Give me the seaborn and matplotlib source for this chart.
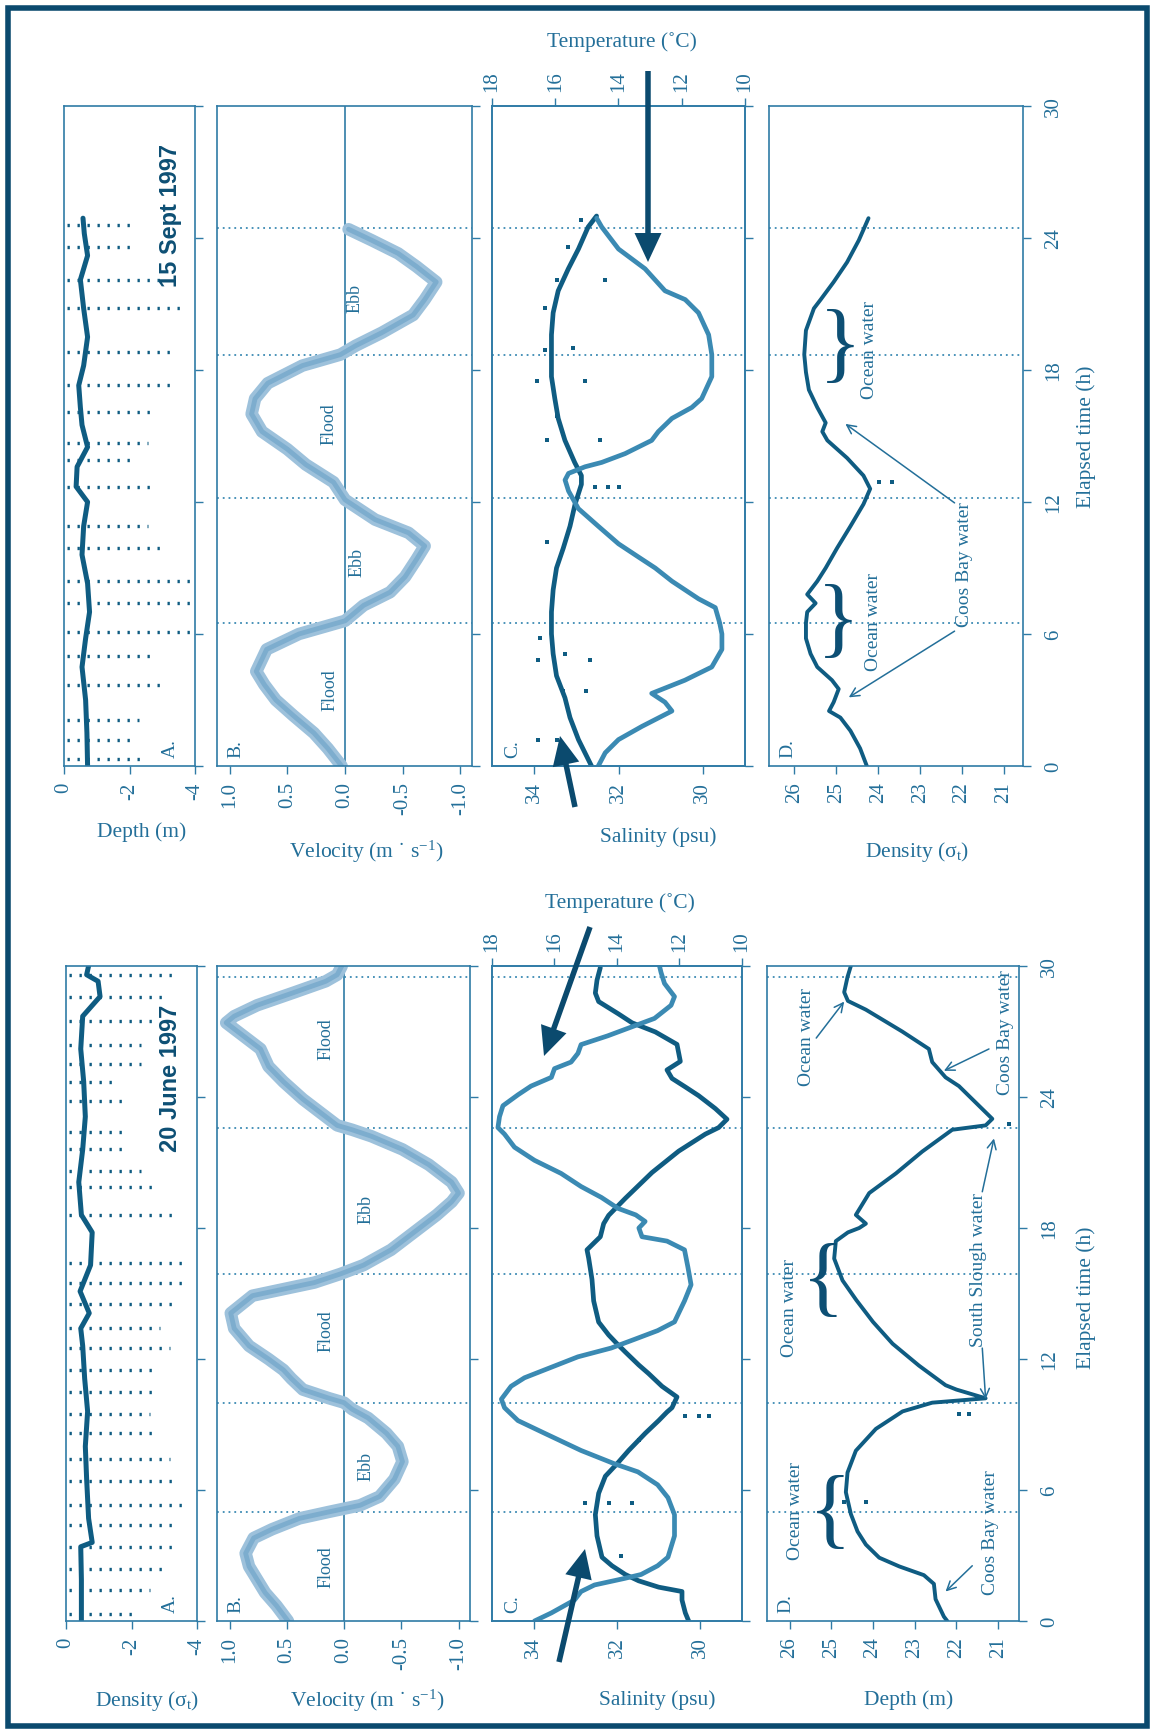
import matplotlib
matplotlib.use("Agg")
import matplotlib.pyplot as plt
from matplotlib.patches import FancyArrow, Rectangle
import seaborn as sns

W, H = 1155, 1733

# ---------------- 15 Sept 1997 (upper block) ----------------
sep_dep_t = [0.0, 1.5, 3.0, 4.5, 5.8, 7.0, 8.3, 9.6, 10.9, 12.0, 12.7, 13.6, 14.5,
             15.5, 16.3, 17.3, 18.2, 19.5, 20.8, 22.1, 23.2, 24.2, 24.9]
sep_dep = [-0.72, -0.70, -0.66, -0.55, -0.66, -0.78, -0.72, -0.55, -0.60, -0.72, -0.37,
           -0.40, -0.72, -0.55, -0.50, -0.45, -0.60, -0.72, -0.60, -0.50, -0.72, -0.62, -0.58]
sep_spk_t = [0.3, 1.2, 2.1, 3.7, 5.0, 6.1, 7.4, 8.4, 9.9, 10.9, 12.7, 13.9, 14.7, 16.1,
             17.3, 18.8, 20.8, 22.1, 23.6, 24.6]
sep_spk_end = [-2.35, -2.23, -2.29, -3.16, -2.76, -3.98, -3.92, -4.0, -3.05, -2.58, -2.76,
               -2.12, -2.58, -2.81, -3.4, -3.4, -3.57, -3.05, -2.17, -2.12]

sep_vel_t = [0.0, 0.8, 1.5, 2.3, 3.0, 3.7, 4.3, 5.3, 6.0, 6.6, 7.3, 7.9, 8.6, 9.4, 10.0,
             10.6, 11.2, 12.1, 12.9, 13.7, 14.4, 15.2, 16.0, 16.7, 17.4, 18.2, 18.7, 19.1,
             19.7, 20.5, 21.2, 22.0, 22.7, 23.3, 23.9, 24.4]
sep_vel = [0.03, 0.15, 0.27, 0.45, 0.60, 0.70, 0.77, 0.68, 0.40, 0.0, -0.16, -0.39, -0.52,
           -0.62, -0.69, -0.55, -0.26, 0.0, 0.10, 0.34, 0.50, 0.72, 0.81, 0.78, 0.67, 0.37,
           0.04, -0.09, -0.32, -0.59, -0.69, -0.79, -0.62, -0.46, -0.23, -0.03]

sep_sal_t = [0.0, 1.2, 2.2, 3.1, 4.1, 5.1, 6.0, 7.0, 8.0, 9.0, 9.9, 10.9, 11.9, 12.8, 13.2,
             13.8, 14.8, 15.8, 16.7, 17.7, 18.7, 19.6, 20.6, 21.6, 22.6, 23.5, 24.5, 25.0]
sep_sal = [32.64, 32.95, 33.15, 33.27, 33.47, 33.55, 33.59, 33.59, 33.55, 33.47, 33.31,
           33.15, 33.03, 32.88, 32.88, 33.04, 33.27, 33.43, 33.51, 33.59, 33.59, 33.59,
           33.55, 33.43, 33.19, 32.95, 32.72, 32.52]
sep_tmp_t = [0.0, 0.6, 1.2, 1.8, 2.5, 2.9, 3.3, 3.9, 4.5, 5.3, 6.0, 6.5, 7.2, 7.6, 8.4,
             9.0, 9.5, 10.1, 10.9, 11.7, 12.5, 13.0, 13.3, 13.6, 13.8, 14.2, 14.8, 15.2,
             15.8, 16.3, 16.7, 17.7, 18.7, 19.6, 20.6, 21.2, 21.6, 22.6, 23.5, 24.5, 24.9]
sep_tmp = [14.64, 14.42, 14.0, 13.26, 12.31, 12.53, 12.95, 11.9, 11.05, 10.73, 10.73,
           10.8, 10.94, 11.47, 12.31, 12.84, 13.37, 14.0, 14.64, 15.27, 15.58, 15.69,
           15.58, 15.06, 14.53, 13.79, 12.95, 12.74, 12.31, 11.68, 11.37, 11.05, 11.05,
           11.15, 11.47, 11.89, 12.53, 13.16, 14.0, 14.53, 14.69]
sep_out_t = [24.8, 23.6, 22.1, 22.1, 20.8, 18.9, 19.0, 17.5, 17.5, 15.9, 14.8, 14.8,
             12.7, 12.7, 12.7, 10.2, 5.8, 5.1, 4.8, 4.8, 3.4, 3.4, 1.2, 1.2]
sep_out_s = [32.88, 33.19, 33.47, 32.32, 33.74, 33.74, 33.07, 33.94, 32.8, 33.47, 33.7,
             32.44, 32.56, 32.24, 32.0, 33.7, 33.86, 33.27, 33.9, 32.68, 33.31, 32.76,
             33.9, 33.47]

sep_den_t = [0.0, 0.8, 1.6, 2.2, 2.5, 2.9, 3.5, 3.9, 4.5, 5.1, 5.8, 6.5, 7.0, 7.4, 7.8,
             8.4, 9.0, 9.9, 10.9, 11.9, 12.6, 13.2, 14.0, 14.8, 15.2, 15.6, 16.3, 17.1,
             17.9, 18.7, 19.8, 20.8, 21.2, 22.0, 22.9, 23.9, 24.9]
sep_den = [24.27, 24.43, 24.66, 24.9, 25.17, 25.06, 24.94, 25.1, 25.45, 25.61, 25.72,
           25.72, 25.69, 25.49, 25.69, 25.45, 25.25, 24.98, 24.66, 24.35, 24.19, 24.35,
           24.74, 25.21, 25.33, 25.25, 25.45, 25.65, 25.72, 25.76, 25.72, 25.53, 25.37,
           25.06, 24.74, 24.46, 24.23]
sep_slack = [6.5, 12.2, 18.7, 24.45]

# ---------------- 20 June 1997 (lower block) ----------------
jun_dep_t = [0.0, 1.9, 3.4, 3.6, 4.7, 6.5, 8.0, 9.6, 11.1, 12.6, 13.4, 14.1, 15.1, 16.3,
             17.8, 18.6, 20.1, 21.6, 23.1, 24.7, 26.2, 27.7, 28.6, 29.3, 29.6, 30.0]
jun_dep = [-0.47, -0.47, -0.45, -0.80, -0.69, -0.63, -0.59, -0.66, -0.57, -0.51, -0.45,
           -0.71, -0.43, -0.75, -0.80, -0.47, -0.39, -0.51, -0.59, -0.54, -0.45, -0.51,
           -1.04, -0.98, -0.63, -0.69]
jun_spk_t = [0.3, 1.4, 2.4, 3.4, 4.4, 5.3, 6.4, 7.4, 8.6, 9.5, 10.5, 11.5, 12.5, 13.4,
             14.5, 15.5, 16.4, 18.6, 19.9, 20.6, 21.6, 22.4, 23.8, 24.7, 25.5, 26.4, 27.5,
             28.6, 29.6]
jun_spk_end = [-2.05, -2.58, -3.1, -3.4, -3.23, -3.76, -3.4, -3.17, -2.64, -2.58, -2.7,
               -2.82, -3.17, -2.88, -3.4, -3.7, -3.7, -3.23, -2.82, -2.28, -1.87, -1.93,
               -1.75, -1.63, -2.28, -2.28, -2.82, -3.1, -3.4]

jun_vel_t = [0.0, 0.7, 1.3, 1.9, 2.5, 3.1, 3.8, 4.2, 4.7, 5.0, 5.3, 5.7, 6.5, 7.3, 8.0,
             8.6, 9.3, 9.7, 10.0, 10.2, 10.6, 11.1, 11.5, 12.0, 12.6, 13.4, 14.1, 14.9,
             15.5, 15.9, 16.3, 17.0, 17.8, 18.6, 19.2, 19.6, 20.1, 20.9, 21.6, 22.2, 22.5,
             22.7, 23.1, 23.9, 24.7, 25.4, 26.2, 27.0, 27.4, 27.7, 28.2, 28.8, 29.3, 29.6,
             30.0]
jun_vel = [0.49, 0.59, 0.69, 0.76, 0.83, 0.86, 0.79, 0.63, 0.39, 0.13, -0.14, -0.31, -0.44,
           -0.51, -0.47, -0.37, -0.21, -0.07, 0.0, 0.13, 0.36, 0.46, 0.53, 0.66, 0.83, 0.96,
           0.99, 0.80, 0.26, 0.03, -0.17, -0.41, -0.61, -0.81, -0.94, -1.0, -0.94, -0.74,
           -0.51, -0.24, -0.07, 0.06, 0.16, 0.36, 0.53, 0.66, 0.73, 0.93, 1.03, 0.96, 0.76,
           0.43, 0.16, 0.06, 0.02]

jun_sal_t = [0.0, 0.37, 0.96, 1.35, 1.55, 1.84, 2.13, 2.53, 2.92, 3.9, 4.87, 5.85, 6.63,
             7.2, 7.81, 8.6, 9.18, 9.57, 9.77, 10.26, 10.75, 11.33, 11.73, 12.32, 12.7, 13.1,
             13.69, 14.66, 15.64, 16.62, 17.0, 17.6, 18.2, 18.58, 18.97, 19.36, 20.54, 21.52,
             22.3, 22.6, 22.98, 23.47, 24.06, 24.46, 24.85, 25.24, 25.63, 26.41, 26.98, 27.4,
             27.8, 28.37, 28.76, 29.35, 29.93]
jun_sal = [30.28, 30.36, 30.44, 30.44, 31.0, 31.48, 31.8, 32.12, 32.36, 32.48, 32.52,
           32.44, 32.28, 32.0, 31.72, 31.32, 31.0, 30.8, 30.68, 30.56, 30.92, 31.24, 31.48,
           31.8, 32.0, 32.2, 32.44, 32.56, 32.6, 32.68, 32.72, 32.4, 32.32, 32.2, 32.0,
           31.8, 31.16, 30.52, 29.88, 29.56, 29.36, 29.64, 30.04, 30.36, 30.68, 30.8, 30.48,
           30.56, 31.08, 31.64, 31.96, 32.44, 32.52, 32.48, 32.4]
jun_tmp_t = [0.0, 0.37, 0.96, 1.35, 1.65, 1.95, 2.13, 2.53, 2.92, 3.9, 4.87, 5.65, 6.24,
             6.83, 7.2, 7.81, 8.6, 9.18, 9.77, 10.16, 10.75, 11.14, 11.5, 12.1, 12.5, 12.9,
             13.3, 13.7, 14.66, 15.4, 16.2, 17.0, 17.4, 17.6, 18.0, 18.3, 18.6, 18.9, 19.4,
             19.9, 20.5, 21.1, 21.7, 22.3, 22.6, 23.1, 23.6, 24.1, 24.5, 24.9, 25.3, 25.6,
             26.0, 26.4, 26.8, 27.2, 27.6, 28.2, 28.6, 29.2, 29.7, 30.0]
jun_tmp = [16.64, 16.1, 15.36, 15.15, 14.72, 13.76, 13.23, 12.7, 12.37, 12.16, 12.16,
           12.37, 12.7, 13.33, 14.08, 15.15, 16.32, 17.17, 17.6, 17.7, 17.39, 16.96, 16.32,
           15.25, 14.19, 13.44, 12.7, 12.16, 11.84, 11.63, 11.73, 11.84, 12.4, 13.2, 13.3,
           13.1, 13.4, 13.97, 14.5, 15.15, 15.79, 16.64, 17.28, 17.6, 17.81, 17.76, 17.65,
           17.17, 16.75, 16.1, 16.0, 15.47, 15.25, 15.15, 14.3, 13.55, 12.8, 12.27, 12.16,
           12.48, 12.59, 12.64]
jun_out_t = [5.4, 5.4, 5.4, 3.0, 9.4, 9.4, 9.4, 8.3]
jun_out_s = [32.76, 32.2, 31.64, 31.9, 30.36, 30.04, 29.8, 31.48]

jun_den_t = [0.0, 0.2, 1.0, 1.7, 2.1, 2.5, 2.9, 3.5, 4.1, 4.9, 5.9, 6.8, 7.8, 8.8, 9.6,
             10.0, 10.2, 10.6, 10.8, 11.7, 12.7, 13.7, 14.7, 15.6, 16.6, 17.4, 17.8, 18.0,
             18.2, 18.6, 19.6, 20.5, 21.5, 22.5, 22.7, 23.0, 23.3, 23.9, 24.5, 24.9, 25.6,
             26.2, 27.0, 28.0, 28.4, 28.8, 29.5, 30.0]
jun_den = [22.22, 22.3, 22.5, 22.54, 22.78, 23.37, 23.85, 24.17, 24.37, 24.53, 24.65,
           24.61, 24.41, 23.93, 23.29, 22.58, 21.3, 22.0, 22.26, 22.9, 23.53, 24.0, 24.4,
           24.73, 24.93, 24.89, 24.6, 24.33, 24.17, 24.41, 24.09, 23.45, 22.82, 22.1, 21.3,
           21.14, 21.3, 21.62, 21.94, 22.26, 22.58, 22.66, 23.3, 24.17, 24.6, 24.69, 24.61,
           24.53]
jun_slack = [5.0, 10.0, 15.9, 22.6, 29.5]

# ---------------- colours ----------------
FRAME = "#0b4a6e"
AXC = "#2f7ba6"
TXT = "#236f99"
NAVY = "#0d4f74"
DARK = "#0f5c82"
LIGHT = "#3b8ab3"
VEL = "#9dc1db"
VELCORE = "#76a8cb"

sns.set_theme(style="white")
plt.rcParams["font.family"] = ["Liberation Serif", "DejaVu Serif"]
plt.rcParams["mathtext.fontset"] = "custom"
plt.rcParams["mathtext.rm"] = "Liberation Serif"
plt.rcParams["mathtext.it"] = "Liberation Serif:italic"

fig = plt.figure(figsize=(W / 100, H / 100), dpi=100)
fig.patch.set_facecolor("white")


def panel_axes(y0, y1, cols):
    return [fig.add_axes([x0 / W, 1 - y1 / H, (x1 - x0) / W, (y1 - y0) / H])
            for x0, x1 in cols]


def style(ax, xlim, xticks, time_labels=False):
    ax.set_xlim(*xlim)
    ax.set_ylim(0, 30)
    ax.set_xticks(xticks)
    ax.set_xticklabels([f"{v:g}" for v in xticks])
    ax.set_yticks([0, 6, 12, 18, 24, 30])
    ax.yaxis.tick_right()
    ax.tick_params(axis="x", direction="out", length=6, width=1, color=AXC,
                   labelcolor=TXT, labelsize=15, labelrotation=90, pad=5, bottom=True)
    ax.tick_params(axis="y", direction="out", length=6, width=1, color=AXC,
                   labelcolor=TXT, labelsize=15, labelrotation=90, pad=9,
                   right=True, left=False, labelright=time_labels, labelleft=False)
    for lab in ax.get_yticklabels():
        lab.set_va("center")
    for sp in ax.spines.values():
        sp.set_color(AXC)
        sp.set_linewidth(1.2)
    ax.set_xlabel("")
    ax.set_ylabel("")


def slack_lines(axes, slack):
    for ax in axes:
        for t in slack:
            ax.axhline(t, color=LIGHT, lw=1.3, ls=(0, (1, 2.2)), zorder=1)


def draw_depth(ax, t, d, spk_t, spk_end):
    ax.hlines(spk_t, -0.08, spk_end, colors=DARK, linestyles=(0, (0.7, 2.3)), lw=2.4)
    sns.lineplot(x=d, y=t, sort=False, estimator=None, orient="y", color=DARK, lw=3.6, ax=ax)
    style(ax, (0, -4), [0, -2, -4])


def draw_velocity(ax, t, v):
    ax.axvline(0, color=AXC, lw=1.2, zorder=1)
    sns.lineplot(x=v, y=t, sort=False, estimator=None, orient="y", color=VEL, lw=9, ax=ax)
    sns.lineplot(x=v, y=t, sort=False, estimator=None, orient="y", color=VELCORE, lw=3.5,
                 alpha=0.8, ax=ax)
    style(ax, (1.11, -1.1), [1.0, 0.5, 0.0, -0.5, -1.0])
    ax.set_xticklabels(["1.0", "0.5", "0.0", "-0.5", "-1.0"])


def draw_ts(ax, sal_t, sal, tmp_t, tmp, out_t, out_s):
    sns.scatterplot(x=out_s, y=out_t, color=DARK, s=12, marker="s", linewidth=0, ax=ax)
    sns.lineplot(x=sal, y=sal_t, sort=False, estimator=None, orient="y", color=DARK, lw=3.4, ax=ax)
    style(ax, (35, 29), [34, 32, 30])
    tw = ax.twiny()
    sns.lineplot(x=tmp, y=tmp_t, sort=False, estimator=None, orient="y", color=LIGHT, lw=3.4, ax=tw)
    tw.set_xlim(18, 10)
    tw.set_ylim(0, 30)
    tw.set_xticks([18, 16, 14, 12, 10])
    tw.tick_params(axis="x", direction="out", length=6, width=1, color=AXC,
                   labelcolor=TXT, labelsize=15, labelrotation=90, pad=5)
    tw.set_xlabel("")
    tw.set_ylabel("")
    for sp in tw.spines.values():
        sp.set_color(AXC)
        sp.set_linewidth(1.2)
    return tw


def draw_density(ax, t, d, xlim):
    sns.lineplot(x=d, y=t, sort=False, estimator=None, orient="y", color=DARK, lw=2.8, ax=ax)
    style(ax, xlim, [26, 25, 24, 23, 22, 21], time_labels=True)


def vtext(ax, x, y, s, size=14, **kw):
    ax.text(x, y, s, rotation=90, ha="center", va="center", color=TXT, fontsize=size, **kw)


def brace(ax, x, y, s):
    ax.text(x, y, s, ha="center", va="center", color=NAVY, fontsize=64)


def arrow(ax, start, end):
    ax.annotate("", xy=end, xytext=start,
                arrowprops=dict(arrowstyle="->", color=TXT, lw=1.1, shrinkA=0, shrinkB=0,
                                mutation_scale=16))


def letter(ax, xf, s):
    ax.text(xf, 0.014, s, transform=ax.transAxes, rotation=90, ha="center", va="bottom",
            color=TXT, fontsize=14)


def big_arrow(x0, y0, x1, y1):
    fig.add_artist(FancyArrow(x0 / 100, (H - y0) / 100, (x1 - x0) / 100, -(y1 - y0) / 100,
                              width=0.055, head_width=0.27, head_length=0.29,
                              length_includes_head=True, transform=fig.dpi_scale_trans,
                              color=FRAME, lw=0))


def ftext(x, y, s, size=15.5, rot=0):
    fig.text(x / W, 1 - y / H, s, ha="center", va="center", color=TXT, fontsize=size,
             rotation=rot)


# ---------------- upper block: 15 Sept 1997 ----------------
a1, b1, c1, d1 = panel_axes(107, 767, [(64, 195), (217, 472), (492, 745), (769, 1023)])
draw_depth(a1, sep_dep_t, sep_dep, sep_spk_t, sep_spk_end)
draw_velocity(b1, sep_vel_t, sep_vel)
draw_ts(c1, sep_sal_t, sep_sal, sep_tmp_t, sep_tmp, sep_out_t, sep_out_s)
draw_density(d1, sep_den_t, sep_den, (26.6, 20.55))
slack_lines([b1, c1, d1], sep_slack)
a1.text(0.81, 0.836, "15 Sept 1997", transform=a1.transAxes, rotation=90, ha="center",
        va="center", fontsize=17, fontweight="bold", family="Liberation Sans", color=NAVY)
for ax, xf, s in [(a1, 0.81, "A."), (b1, 0.075, "B."), (c1, 0.083, "C."), (d1, 0.075, "D.")]:
    letter(ax, xf, s)
vtext(b1, 0.13, 3.5, "Flood", 13)
vtext(b1, -0.1, 9.3, "Ebb", 13)
vtext(b1, 0.14, 15.6, "Flood", 13)
vtext(b1, -0.09, 21.3, "Ebb", 13)
brace(d1, 24.96, 6.5, "}")
brace(d1, 24.9, 19.0, "}")
vtext(d1, 24.12, 6.6, "Ocean water", 14)
vtext(d1, 24.2, 18.95, "Ocean water", 14)
vtext(d1, 21.94, 9.2, "Coos Bay water", 14)
arrow(d1, (22.18, 6.13), (24.7, 3.12))
arrow(d1, (22.18, 11.96), (24.78, 15.55))
d1.scatter([23.99, 23.68], [12.9, 12.9], s=8, marker="s", color=DARK, linewidths=0)

ftext(142, 832, "Depth (m)")
ftext(366, 852, "Velocity (m ˙ s$^{-1}$)")
ftext(658, 837, "Salinity (psu)")
ftext(917, 852, "Density (σ$_{\\mathregular{t}}$)")
ftext(622, 42, "Temperature (˚C)")
ftext(1086, 437, "Elapsed time (h)", rot=90)

# ---------------- lower block: 20 June 1997 ----------------
a2, b2, c2, d2 = panel_axes(967, 1622, [(66, 197), (217, 470), (492, 742), (767, 1019)])
draw_depth(a2, jun_dep_t, jun_dep, jun_spk_t, jun_spk_end)
draw_velocity(b2, jun_vel_t, jun_vel)
draw_ts(c2, jun_sal_t, jun_sal, jun_tmp_t, jun_tmp, jun_out_t, jun_out_s)
draw_density(d2, jun_den_t, jun_den, (26.54, 20.5))
slack_lines([b2, c2, d2], jun_slack)
a2.text(0.80, 0.83, "20 June 1997", transform=a2.transAxes, rotation=90, ha="center",
        va="center", fontsize=17, fontweight="bold", family="Liberation Sans", color=NAVY)
for ax, xf, s in [(a2, 0.80, "A."), (b2, 0.075, "B."), (c2, 0.083, "C."), (d2, 0.075, "D.")]:
    letter(ax, xf, s)
vtext(b2, 0.16, 2.5, "Flood", 13)
vtext(b2, -0.19, 7.1, "Ebb", 13)
vtext(b2, 0.16, 13.3, "Flood", 13)
vtext(b2, -0.19, 18.9, "Ebb", 13)
vtext(b2, 0.16, 26.7, "Flood", 13)
brace(d2, 25.02, 4.87, "{")
brace(d2, 25.18, 15.5, "{")
vtext(d2, 25.85, 5.07, "Ocean water", 14)
vtext(d2, 26.0, 14.4, "Ocean water", 14)
vtext(d2, 25.6, 26.8, "Ocean water", 14)
vtext(d2, 21.18, 4.1, "Coos Bay water", 14)
vtext(d2, 20.82, 27.0, "Coos Bay water", 14)
vtext(d2, 21.46, 16.1, "South Slough water", 14)
arrow(d2, (21.62, 2.53), (22.26, 1.35))
arrow(d2, (21.38, 12.5), (21.3, 10.16))
arrow(d2, (21.38, 19.66), (21.1, 22.1))
arrow(d2, (25.36, 26.7), (24.69, 28.37))
arrow(d2, (21.22, 26.2), (22.3, 25.2))
d2.scatter([24.69, 24.17, 21.94, 21.7, 20.75], [5.46, 5.46, 9.48, 9.48, 22.78], s=8,
           marker="s", color=DARK, linewidths=0)

ftext(147, 1701, "Density (σ$_{\\mathregular{t}}$)")
ftext(367, 1701, "Velocity (m ˙ s$^{-1}$)")
ftext(657, 1700, "Salinity (psu)")
ftext(909, 1700, "Depth (m)")
ftext(620, 903, "Temperature (˚C)")
ftext(1086, 1298, "Elapsed time (h)", rot=90)

# big pointer arrows in the C panels
big_arrow(648, 72, 648, 263)
big_arrow(575, 808, 560, 737)
big_arrow(590, 928, 544, 1057)
big_arrow(559, 1663, 585, 1550)

# outer frame
fig.add_artist(Rectangle((8 / W, 1 - 1727 / H), (1147 - 8) / W, (1727 - 9) / H,
                         transform=fig.transFigure, fill=False, ec=FRAME, lw=4))

fig.savefig("out.png", dpi=100, facecolor="white")
